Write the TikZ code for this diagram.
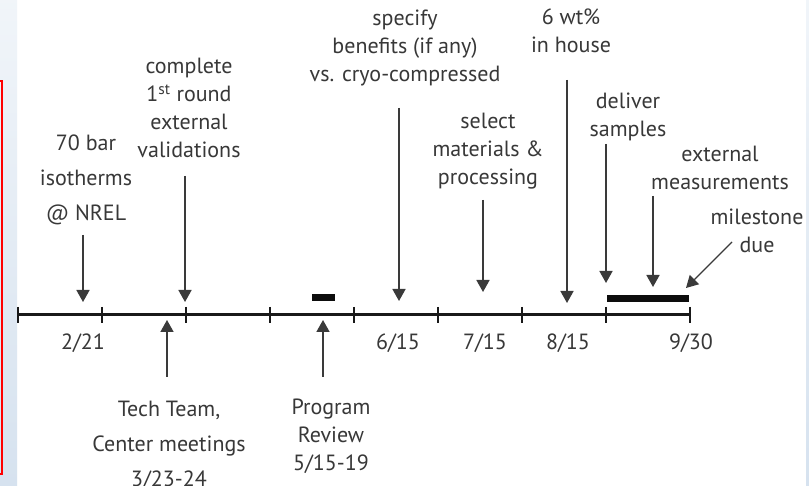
\documentclass[tikz,border=0pt]{standalone}
\usepackage{fontspec}
\setmainfont{PT Sans}
\usetikzlibrary{arrows.meta}

\definecolor{txtc}{HTML}{383838}
\definecolor{arrc}{HTML}{3A3A3A}
\definecolor{stripc}{HTML}{D6E2EF}

\tikzset{
  lbl/.style={align=center, inner sep=0pt, text=txtc, font=\fontsize{22}{28}\selectfont},
  lblw/.style={lbl, font=\fontsize{22}{35}\selectfont},
  datelbl/.style={inner sep=0pt, text=txtc, font=\fontsize{22}{28}\selectfont},
  arr/.style={-{Triangle[width=13pt,length=12pt]}, line width=1.7pt, draw=arrc},
  axis/.style={line width=3pt, black!90},
  tick/.style={line width=2.4pt, black!90},
  bar/.style={line width=7pt, black!95}
}

\begin{document}
\begin{tikzpicture}[x=1pt, y=-1pt]
    \useasboundingbox (0,0) rectangle (809,486);

    % 背景
    \fill[white] (0,0) rectangle (809,486);
    \shade[top color=stripc!35, bottom color=stripc] (0,0) rectangle (17,486);
    \shade[top color=stripc!35, bottom color=stripc] (806,0) rectangle (809,486);
    \draw[red, line width=1.6pt] (-4,81) rectangle (2,474);

    % 时间轴
    \draw[axis] (18,315) -- (690,315);
    \foreach \i in {0,...,8} {
        \coordinate (k\i) at (18+84*\i,315);
        \draw[tick] (18+84*\i,307) -- (18+84*\i,323);
    }

    % 日期
    \node[datelbl] (d1) at (83,343) {2/21};
    \node[datelbl] (d2) at (398,343) {6/15};
    \node[datelbl] (d3) at (485,343) {7/15};
    \node[datelbl] (d4) at (568,343) {8/15};
    \node[datelbl] (d5) at (691,343) {9/30};

    % 粗线段
    \draw[bar] (312,298) -- (335,298);
    \draw[bar] (607,298.5) -- (689,298.5);

    % 箭头终点
    \coordinate (t70) at (83,302);
    \coordinate (tComp) at (185,302);
    \coordinate (tSpec) at (399,301);
    \coordinate (tSel) at (483,292);
    \coordinate (tWt) at (567,303);
    \coordinate (tDel) at (606,283);
    \coordinate (tExt) at (653,287);
    \coordinate (tMs) at (686,288);
    \coordinate (fMs) at (732,242);
    \coordinate (tTech) at (167,320);
    \coordinate (tProg) at (323,320);

    % 上方说明
    \node[lblw, anchor=south] (n70) at (86,225) {70 bar\\isotherms\\@ NREL};
    \node[lbl, anchor=south] (nComp) at (189,158) {complete\\1\textsuperscript{st} round\\external\\validations};
    \node[lbl, anchor=south] (nSpec) at (405,86) {specify\\benefits (if any)\\vs. cryo-compressed};
    \node[lbl, anchor=south] (nSel) at (488,189) {select\\materials \&\\processing};
    \node[lbl, anchor=south] (nWt) at (571,53) {6 wt\%\\in house};
    \node[lbl, anchor=south] (nDel) at (628,141) {deliver\\samples};
    \node[lbl, anchor=south] (nExt) at (720,190) {external\\measurements};
    \node[lbl, anchor=south] (nMs) at (757,253) {milestone\\due};

    \draw[arr, shorten <=10pt] (n70.south -| t70) -- (t70);
    \draw[arr, shorten <=18pt] (nComp.south -| tComp) -- (tComp);
    \draw[arr, shorten <=22pt] (nSpec.south -| tSpec) -- (tSpec);
    \draw[arr, shorten <=11pt] (nSel.south -| tSel) -- (tSel);
    \draw[arr, shorten <=27pt] (nWt.south -| tWt) -- (tWt);
    \draw[arr, shorten <=3pt] (nDel.south -| tDel) -- (tDel);
    \draw[arr, shorten <=6pt] (nExt.south -| tExt) -- (tExt);
    \draw[arr, line width=1.3pt] (fMs) -- (tMs);

    % 下方说明
    \node[lblw, anchor=north] (nTech) at (169,401) {Tech Team,\\Center meetings\\3/23-24};
    \node[lbl, anchor=north] (nProg) at (331,399) {Program\\Review\\5/15-19};

    \draw[arr, shorten <=24pt] (nTech.north -| tTech) -- (tTech);
    \draw[arr, shorten <=22pt] (nProg.north -| tProg) -- (tProg);
\end{tikzpicture}
\end{document}
